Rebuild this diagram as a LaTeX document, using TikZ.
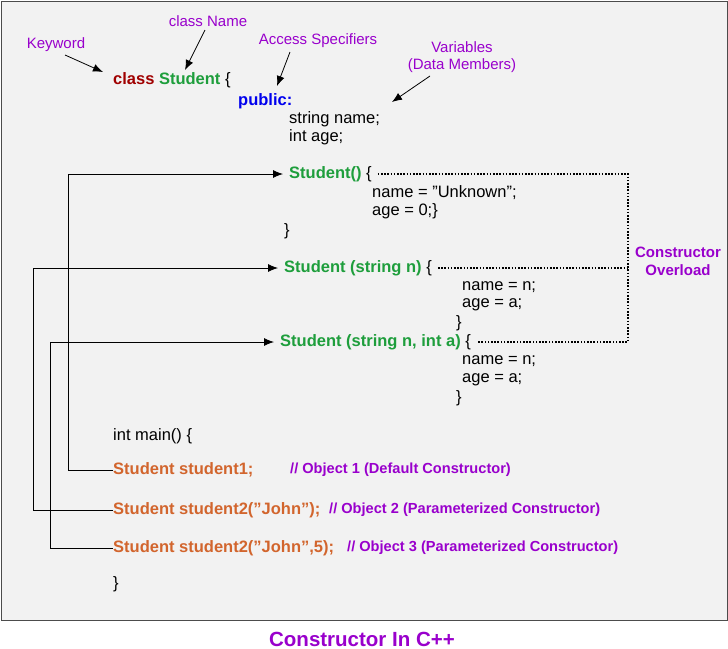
\documentclass[tikz,border=0pt]{standalone}
\usepackage{fontspec}
\setmainfont{Liberation Sans}
\usetikzlibrary{arrows.meta}
\definecolor{pur}{HTML}{9900CC}
\definecolor{grn}{HTML}{1E9E3C}
\definecolor{org}{HTML}{D2652D}
\definecolor{kred}{HTML}{A00000}
\definecolor{blu}{HTML}{0000EE}
\begin{document}
\begin{tikzpicture}[x=1pt,y=-1pt,
  lab/.style={font=\fontsize{15}{17}\selectfont,text=pur,inner sep=0pt},
  code/.style={font=\fontsize{16.5}{19}\selectfont,anchor=west,inner sep=0pt},
  bcode/.style={code,font=\fontsize{16.5}{19}\selectfont\bfseries},
  cmt/.style={code,text=pur,font=\fontsize{14.6}{17}\selectfont\bfseries},
  arr/.style={-{Latex[length=10pt,width=8pt]},thick},
  dot/.style={line width=1.6pt,dash pattern=on 1.6pt off 1.6pt}]
\useasboundingbox (0,0) rectangle (728,648);
\draw[fill=black!5,draw=black!70] (1,1) rectangle (727,620);
\node[lab] (kw) at (56,45) {Keyword};
\node[lab] (cn) at (208,21) {class Name};
\node[lab] (as) at (318,41) {Access Specifiers};
\node[lab,align=center] (vr) at (462,57) {Variables\\(Data Members)};
\node[code] (cls) at (113,80) {\textbf{\textcolor{kred}{class} \textcolor{grn}{Student}} \{};
\node[bcode,text=blu] (pub) at (238,101) {public:};
\node[code] (v1) at (289,119) {string name;};
\node[code] (v2) at (289,137) {int age;};
\node[code] (c1) at (289,174) {\textbf{\textcolor{grn}{Student()}} \{};
\node[code] (c1a) at (372,193) {name = "Unknown";};
\node[code] (c1b) at (372,211) {age = 0;\}};
\node[code] (c1c) at (284,231) {\}};
\node[code] (c2) at (284,268) {\textbf{\textcolor{grn}{Student (string n)}} \{};
\node[code] (c2a) at (462,287) {name = n;};
\node[code] (c2b) at (462,305) {age = a;};
\node[code] (c2c) at (456,323) {\}};
\node[code] (c3) at (280,342) {\textbf{\textcolor{grn}{Student (string n, int a)}} \{};
\node[code] (c3a) at (462,361) {name = n;};
\node[code] (c3b) at (462,380) {age = a;};
\node[code] (c3c) at (456,398) {\}};
\node[code] (mn) at (113,436) {int main() \{};
\node[bcode,text=org] (s1) at (113,470) {Student student1;};
\node[cmt] (o1) at (290,470) {// Object 1 (Default Constructor)};
\node[bcode,text=org] (s2) at (113,510) {Student student2(”John”);};
\node[cmt] (o2) at (329,510) {// Object 2 (Parameterized Constructor)};
\node[bcode,text=org] (s3) at (113,548) {Student student2(”John”,5);};
\node[cmt] (o3) at (347,548) {// Object 3 (Parameterized Constructor)};
\node[code] (mc) at (113,584) {\}};
\node[font=\fontsize{15}{18}\selectfont\bfseries,text=pur,align=center] (co) at (678,261) {Constructor\\Overload};
\node[font=\fontsize{20.5}{24}\selectfont\bfseries,text=pur] (tt) at (362,639) {Constructor In C++};
\coordinate (k0) at (65,55); \coordinate (k1) at (103,72);
\draw[arr] (k0) -- (k1);
\coordinate (n0) at (205,30); \coordinate (n1) at (185,70);
\draw[arr] (n0) -- (n1);
\coordinate (a0) at (290,52); \coordinate (a1) at (277,86);
\draw[arr] (a0) -- (a1);
\coordinate (d0) at (430,76); \coordinate (d1) at (392,102);
\draw[arr] (d0) -- (d1);
\draw[arr] (s1.west) -- (68,470) |- ([xshift=-6pt]c1.west);
\draw[arr] (s2.west) -- (33,510) |- ([xshift=-6pt]c2.west);
\draw[arr] (s3.west) -- (50,548) |- ([xshift=-6pt]c3.west);
\draw[dot] ([xshift=6pt]c1.east) -- (628,174) -- (628,342) -- ([xshift=6pt]c3.east);
\draw[dot] ([xshift=6pt]c2.east) -- (628,268);
\end{tikzpicture}
\end{document}
